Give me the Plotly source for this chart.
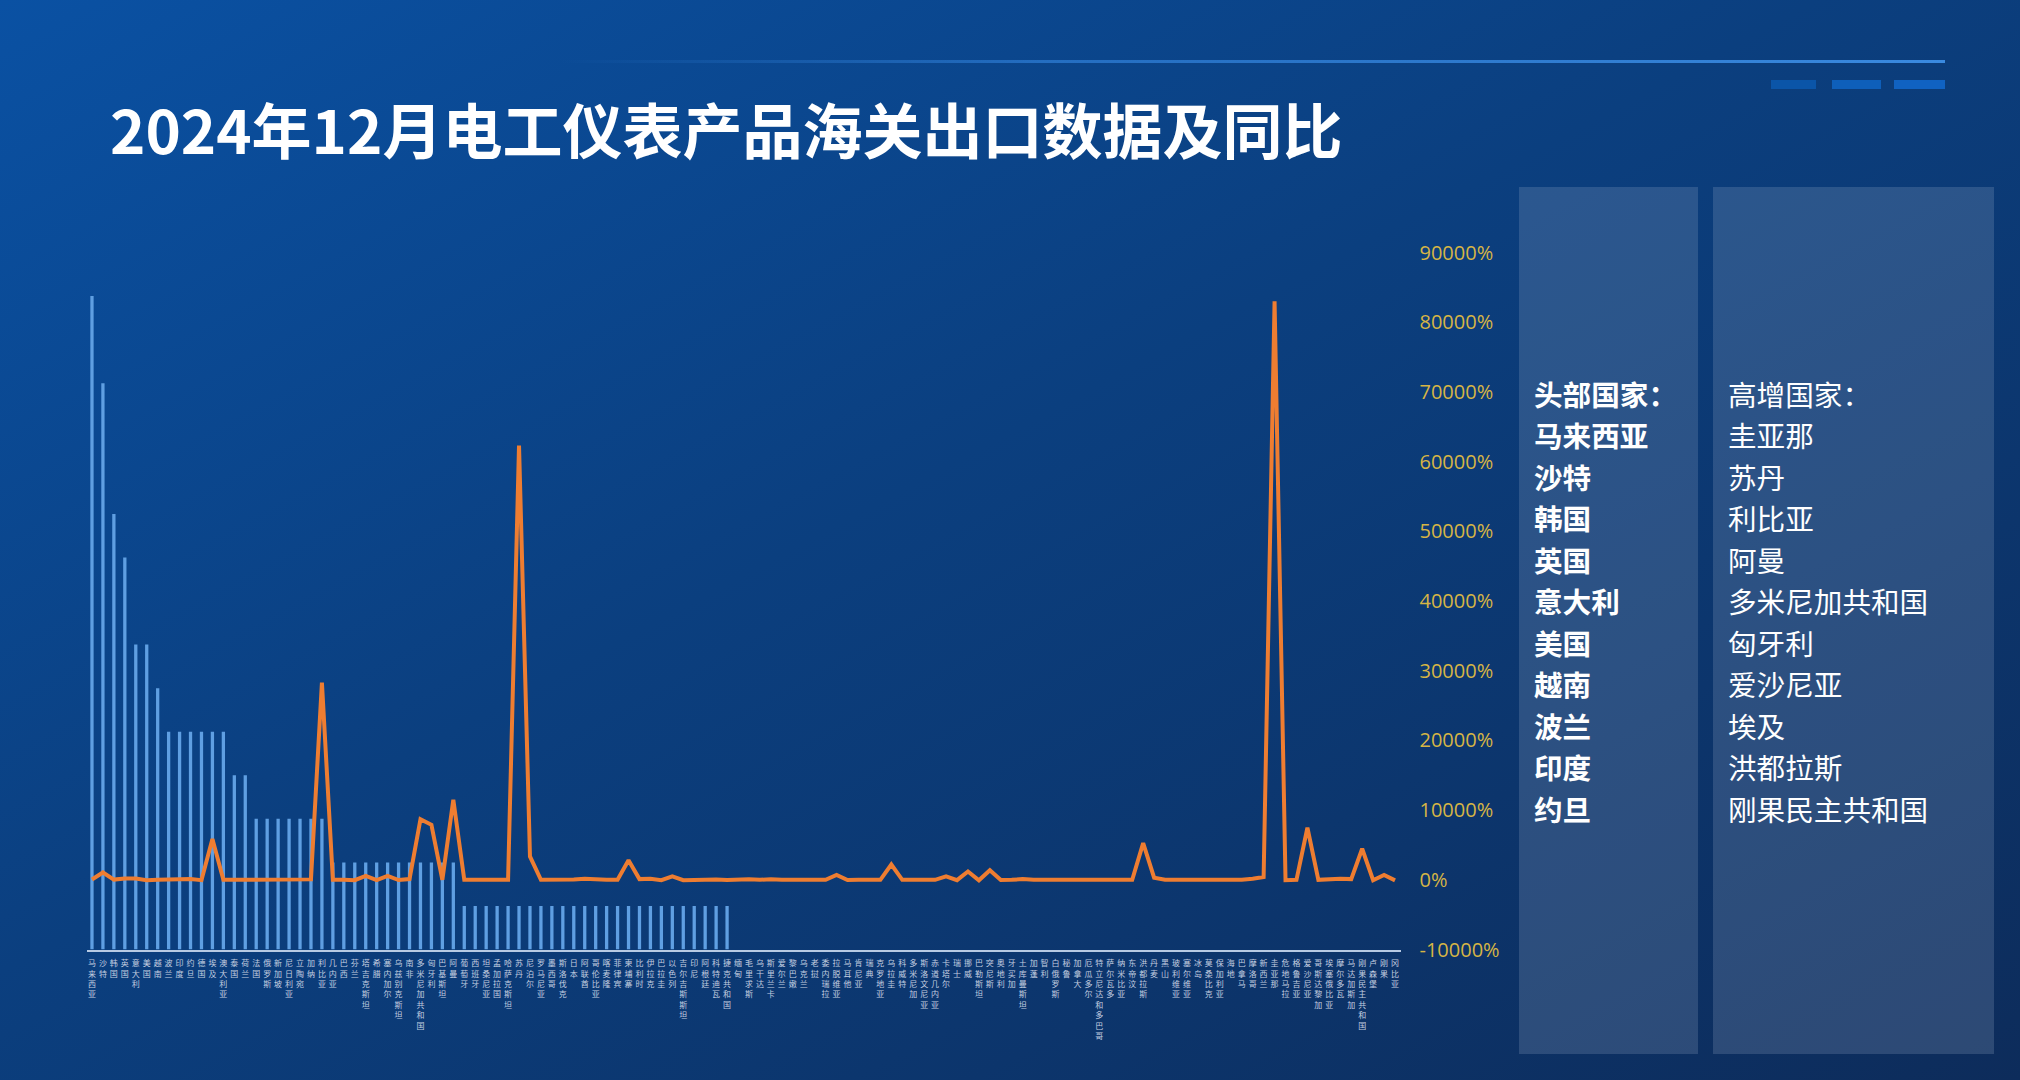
import base64
import plotly.graph_objects as go

# ---------------- data ----------------
countries = [
    "马来西亚", "沙特", "韩国", "英国", "意大利", "美国", "越南", "波兰", "印度", "约旦",
    "德国", "埃及", "澳大利亚", "泰国", "荷兰", "法国", "俄罗斯", "新加坡", "尼日利亚", "立陶宛",
    "加纳", "利比亚", "几内亚", "巴西", "芬兰", "塔吉克斯坦", "希腊", "塞内加尔", "乌兹别克斯坦", "南非",
    "多米尼加共和国", "匈牙利", "巴基斯坦", "阿曼", "葡萄牙", "西班牙", "坦桑尼亚", "孟加拉国", "哈萨克斯坦", "苏丹",
    "尼泊尔", "罗马尼亚", "墨西哥", "斯洛伐克", "日本", "阿联酋", "哥伦比亚", "喀麦隆", "菲律宾", "柬埔寨",
    "比利时", "伊拉克", "巴拉圭", "以色列", "吉尔吉斯斯坦", "印尼", "阿根廷", "科特迪瓦", "捷克共和国", "缅甸",
    "毛里求斯", "乌干达", "斯里兰卡", "爱尔兰", "黎巴嫩", "乌克兰", "老挝", "委内瑞拉", "拉脱维亚", "马耳他",
    "肯尼亚", "瑞典", "克罗地亚", "乌拉圭", "科威特", "多米尼加", "斯洛文尼亚", "赤道几内亚", "卡塔尔", "瑞士",
    "挪威", "巴勒斯坦", "突尼斯", "奥地利", "牙买加", "土库曼斯坦", "加蓬", "智利", "白俄罗斯", "秘鲁",
    "加拿大", "厄瓜多尔", "特立尼达和多巴哥", "萨尔瓦多", "纳米比亚", "东帝汶", "洪都拉斯", "丹麦", "黑山", "玻利维亚",
    "塞尔维亚", "冰岛", "莫桑比克", "保加利亚", "海地", "巴拿马", "摩洛哥", "新西兰", "圭亚那", "危地马拉",
    "格鲁吉亚", "爱沙尼亚", "哥斯达黎加", "埃塞俄比亚", "摩尔多瓦", "马达加斯加", "刚果民主共和国", "卢森堡", "刚果", "冈比亚",
]

export_values = [
    15, 13, 10, 9, 7, 7, 6, 5, 5, 5,
    5, 5, 5, 4, 4, 3, 3, 3, 3, 3,
    3, 3, 2, 2, 2, 2, 2, 2, 2, 2,
    2, 2, 2, 2, 1, 1, 1, 1, 1, 1,
    1, 1, 1, 1, 1, 1, 1, 1, 1, 1,
    1, 1, 1, 1, 1, 1, 1, 1, 1, 0,
    0, 0, 0, 0, 0, 0, 0, 0, 0, 0,
    0, 0, 0, 0, 0, 0, 0, 0, 0, 0,
    0, 0, 0, 0, 0, 0, 0, 0, 0, 0,
    0, 0, 0, 0, 0, 0, 0, 0, 0, 0,
    0, 0, 0, 0, 0, 0, 0, 0, 0, 0,
    0, 0, 0, 0, 0, 0, 0, 0, 0, 0,
]

yoy_percent = [
    50, 1050, 30, 200, 200, -50, 0, 0, 100, 100,
    -50, 5850, 0, 0, 0, -50, -50, 0, 60, 60,
    60, 28300, 0, 0, -60, 570, -60, 570, -40, 100,
    8700, 7900, 0, 11500, 0, 0, 0, 0, 0, 62300,
    3350, 0, 0, 0, 50, 150, 50, 0, 0, 2800,
    100, 150, -60, 500, -50, 0, 60, 60, -40, 80,
    80, 0, 80, 0, 0, 0, 0, 0, 700, -30,
    0, 0, 0, 2200, 0, 0, 0, 0, 500, -50,
    1200, -70, 1380, -40, 0, 100, 0, 0, 100, 0,
    0, 50, 120, 0, 0, 0, 5270, 300, 0, 0,
    0, 0, 0, 0, 0, 0, 150, 400, 83000, -60,
    0, 7470, 0, 100, 150, 100, 4450, -60, 700, -80,
]

y2_ticks = [-10000, 0, 10000, 20000, 30000, 40000, 50000, 60000, 70000, 80000, 90000]
y2_ticktext = ["-10000%", "0%", "10000%", "20000%", "30000%", "40000%",
               "50000%", "60000%", "70000%", "80000%", "90000%"]

title_text = "2024年12月电工仪表产品海关出口数据及同比"
top_header = "头部国家："
top_countries = ["马来西亚", "沙特", "韩国", "英国", "意大利", "美国", "越南", "波兰", "印度", "约旦"]
growth_header = "高增国家："
growth_countries = ["圭亚那", "苏丹", "利比亚", "阿曼", "多米尼加共和国", "匈牙利", "爱沙尼亚", "埃及", "洪都拉斯", "刚果民主共和国"]

# ---------------- geometry helpers ----------------
W, H = 2020, 1080


def px(x):
    return x / W


def py(y):
    return 1 - y / H


# ---------------- background (gradient) ----------------
svg = f'''<svg xmlns="http://www.w3.org/2000/svg" width="{W}" height="{H}" viewBox="0 0 {W} {H}" preserveAspectRatio="none">
<defs>
<linearGradient id="bg" x1="0" y1="0" x2="1" y2="1">
<stop offset="0" stop-color="#0a51a3"/>
<stop offset="0.45" stop-color="#0b3f7f"/>
<stop offset="1" stop-color="#0d2c5b"/>
</linearGradient>
<linearGradient id="ln" x1="0" y1="0" x2="1" y2="0">
<stop offset="0" stop-color="#2f7fd8" stop-opacity="0"/>
<stop offset="0.35" stop-color="#2f7fd8" stop-opacity="0.7"/>
<stop offset="1" stop-color="#3a8ae0" stop-opacity="1"/>
</linearGradient>
</defs>
<rect width="{W}" height="{H}" fill="url(#bg)"/>
<rect x="560" y="60" width="1385" height="3" fill="url(#ln)"/>
</svg>'''
bg_uri = "data:image/svg+xml;base64," + base64.b64encode(svg.encode("utf-8")).decode("ascii")

# ---------------- figure ----------------
fig = go.Figure()

fig.add_trace(go.Bar(
    x=countries, y=export_values, yaxis="y",
    marker=dict(color="#5f9fe2", line=dict(width=0)),
    width=0.3, showlegend=False, hoverinfo="x+y",
))

fig.add_trace(go.Scatter(
    x=countries, y=yoy_percent, yaxis="y2", mode="lines",
    line=dict(color="#ee7d31", width=4),
    showlegend=False,
))

x_dom = [px(86.5), px(1400.5)]
y_dom = [py(949.5), py(252.5)]

fig.update_layout(
    width=W, height=H,
    margin=dict(l=0, r=0, t=0, b=0),
    paper_bgcolor="#0b3d7b",
    plot_bgcolor="rgba(0,0,0,0)",
    bargap=0.7,
    xaxis=dict(
        domain=x_dom, type="category", range=[-0.5, len(countries) - 0.5],
        tickmode="array", tickvals=countries,
        ticktext=["<br>".join(list(c)) for c in countries],
        tickangle=0, ticks="", ticklabelstandoff=5,
        tickfont=dict(family="Noto Sans CJK SC", size=8, color="#c3cee0"),
        showline=True, linecolor="#b7cae3", linewidth=2,
        showgrid=False, zeroline=False, automargin=False, fixedrange=True,
    ),
    yaxis=dict(
        domain=y_dom, range=[0, 16], visible=False, showgrid=False,
        zeroline=False, automargin=False,
    ),
    yaxis2=dict(
        overlaying="y", side="right", anchor="x",
        range=[-10000, 90000], tickmode="array",
        tickvals=y2_ticks, ticktext=y2_ticktext,
        ticks="", ticklabelstandoff=18,
        tickfont=dict(family="Open Sans", size=20, color="#d6b545"),
        showgrid=False, zeroline=False, showline=False, automargin=False,
    ),
    images=[dict(
        source=bg_uri, xref="paper", yref="paper", x=0, y=1,
        sizex=1, sizey=1, sizing="stretch", layer="below",
        xanchor="left", yanchor="top",
    )],
)

shapes = []
# decorative dashes top right
for (x0, x1, col) in [(1771, 1816, "#0b55a8"), (1832, 1881, "#0e5fba"), (1894, 1945, "#1062c2")]:
    shapes.append(dict(type="rect", xref="paper", yref="paper",
                       x0=px(x0), x1=px(x1), y0=py(89), y1=py(80),
                       fillcolor=col, line=dict(width=0), layer="below"))
# side panels
for (x0, x1) in [(1519, 1698), (1713, 1994)]:
    shapes.append(dict(type="rect", xref="paper", yref="paper",
                       x0=px(x0), x1=px(x1), y0=py(1054), y1=py(187),
                       fillcolor="rgba(175,190,215,0.20)", line=dict(width=0),
                       layer="below"))
fig.update_layout(shapes=shapes)

annotations = [dict(
    text="<b>" + title_text + "</b>", xref="paper", yref="paper",
    x=px(108), y=py(128), xanchor="left", yanchor="middle", showarrow=False,
    font=dict(family="Noto Sans CJK SC", size=60, color="#ffffff"),
)]

panel_font = 28.6
line_step = 41.5
first_y = 393
for i, t in enumerate([top_header] + top_countries):
    annotations.append(dict(
        text="<b>" + t + "</b>", xref="paper", yref="paper",
        x=px(1532), y=py(first_y + i * line_step),
        xanchor="left", yanchor="middle", showarrow=False,
        font=dict(family="Noto Sans CJK SC", size=panel_font, color="#ffffff"),
    ))
for i, t in enumerate([growth_header] + growth_countries):
    annotations.append(dict(
        text=t, xref="paper", yref="paper",
        x=px(1726), y=py(first_y + i * line_step),
        xanchor="left", yanchor="middle", showarrow=False,
        font=dict(family="Noto Sans CJK SC", size=panel_font, color="#ffffff"),
    ))
fig.update_layout(annotations=annotations)

fig.write_html(
    "out.html",
    config={"displayModeBar": False},
    post_script="document.body.style.margin='0';document.body.style.overflow='hidden';",
)
